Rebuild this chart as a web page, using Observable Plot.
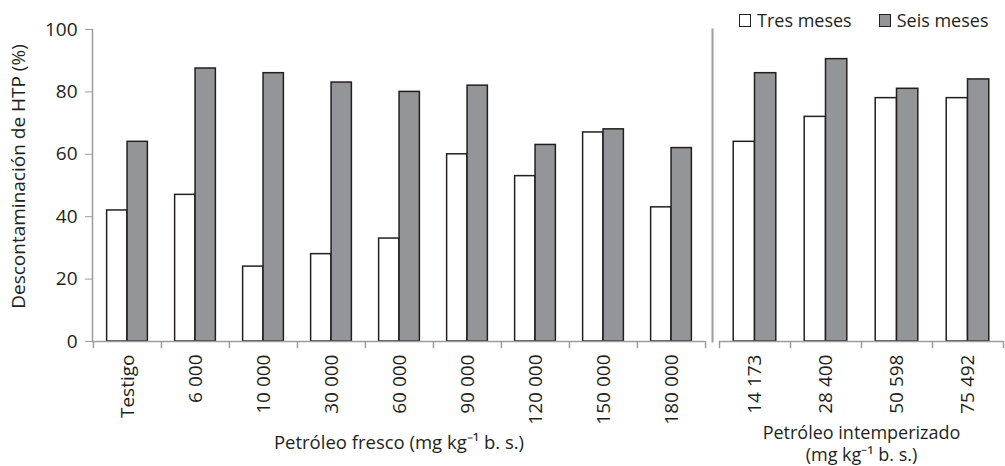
<!DOCTYPE html>
<html>
<head>
<meta charset="utf-8">
<script src="https://cdn.jsdelivr.net/npm/d3@7"></script>
<script src="https://cdn.jsdelivr.net/npm/@observablehq/plot@0.6"></script>
<style>
  html, body { margin: 0; padding: 0; background: #fff; }
  #chart { position: relative; width: 1005px; height: 466px; font-family: "Open Sans", sans-serif; color: #231f20; }
  #chart svg { overflow: visible; }
  .panel { position: absolute; top: 0; }
  .legend { position: absolute; top: 8px; left: 739px; display: flex; align-items: center; font-size: 18px; white-space: nowrap; }
  .legend .sw { display: inline-block; width: 10px; height: 11px; border: 1.5px solid #231f20; margin-right: 6px; }
  .legend .item { display: flex; align-items: center; margin-right: 27px; }
</style>
</head>
<body>
<div id="chart"></div>
<script>
// ---- data ----
const freshCategories = ["Testigo", "6 000", "10 000", "30 000", "60 000", "90 000", "120 000", "150 000", "180 000"];
const freshTres = [42, 47, 24, 28, 33, 60, 53, 67, 43];
const freshSeis = [64, 87.5, 86, 83, 80, 82, 63, 68, 62];

const weatheredCategories = ["14 173", "28 400", "50 598", "75 492"];
const weatheredTres = [64, 72, 78, 78];
const weatheredSeis = [86, 90.5, 81, 84];

const seriesNames = ["Tres meses", "Seis meses"];
const seriesFills = ["#ffffff", "#939598"];
const yTicks = [0, 20, 40, 60, 80, 100];
const yLabel = "Descontaminación de HTP (%)";
const freshTitle = "Petróleo fresco (mg kg\u207B\u00B9 b. s.)";
const weatheredTitle = "Petróleo intemperizado\n(mg kg\u207B\u00B9 b. s.)";

// ---- style ----
const ink = "#231f20";
const axisGray = "#9a9c9f";
const H = 466, MT = 29, MB = 125;

function panel({cats, tres, seis, width, marginLeft, marginRight, yAxis, title, titleDy, titleAnchor, titleSize, separator}) {
  const rows = cats.map((c, i) => ({cat: c, tres: tres[i], seis: seis[i]}));
  const bw = (width - marginLeft - marginRight) / cats.length;
  const outer = 0.2 * bw, mid = 0.5 * bw;
  const marks = [
    Plot.barY(rows, {x: "cat", y: "tres", fill: seriesFills[0], stroke: ink, strokeWidth: 1.5,
      insetLeft: outer, insetRight: mid}),
    Plot.barY(rows, {x: "cat", y: "seis", fill: seriesFills[1], stroke: ink, strokeWidth: 1.5,
      insetLeft: mid, insetRight: outer}),
    Plot.ruleY([0], {stroke: axisGray, strokeWidth: 1.5}),
    Plot.ruleX(cats, {x: d => d, y1: 0, y2: -2.3, dx: -bw / 2, stroke: axisGray, strokeWidth: 1.5}),
    Plot.ruleX(cats.slice(-1), {x: d => d, y1: 0, y2: -2.3, dx: bw / 2, stroke: axisGray, strokeWidth: 1.5}),
    Plot.axisX({tickSize: 0, tickRotate: -90, tickPadding: 13, fontSize: 19, fill: ink, label: null}),
    Plot.text([title], {frameAnchor: "bottom", dy: titleDy, fontSize: titleSize, fill: ink, lineHeight: 1.2, lineAnchor: titleAnchor})
  ];
  if (yAxis) {
    marks.push(
      Plot.frame({anchor: "left", stroke: axisGray, strokeWidth: 1.5}),
      Plot.axisY({ticks: yTicks, tickSize: 7, tickPadding: 8, fontSize: 19, stroke: axisGray, fill: ink, label: null}),
      Plot.text([yLabel], {frameAnchor: "left", textAnchor: "middle", rotate: -90, dx: -74, dy: -9, fontSize: 19, fill: ink})
    );
  } else {
    marks.push(Plot.axisY({ticks: [], label: null, tickSize: 0}));
  }
  if (separator) marks.push(Plot.frame({anchor: "right", dx: 7, stroke: axisGray, strokeWidth: 2}));
  return Plot.plot({
    width, height: H,
    marginLeft, marginRight, marginTop: MT, marginBottom: MB,
    style: {fontFamily: "'Open Sans', sans-serif", fontSize: "19px", color: ink, background: "transparent"},
    x: {type: "band", domain: cats, paddingInner: 0, paddingOuter: 0, label: null},
    y: {domain: [0, 100], label: null},
    marks
  });
}

const chart = document.getElementById("chart");

const left = panel({cats: freshCategories, tres: freshTres, seis: freshSeis,
  width: 712, marginLeft: 92, marginRight: 7, yAxis: true, title: freshTitle, titleDy: 100,
  titleAnchor: "middle", titleSize: 18.5, separator: true});
left.classList.add("panel"); left.style.left = "0px";
chart.appendChild(left);

const right = panel({cats: weatheredCategories, tres: weatheredTres, seis: weatheredSeis,
  width: 300, marginLeft: 14, marginRight: 2, yAxis: false, title: weatheredTitle, titleDy: 119,
  titleAnchor: "bottom", titleSize: 18, separator: false});
right.classList.add("panel"); right.style.left = "705px";
chart.appendChild(right);

// legend
const legend = document.createElement("div");
legend.className = "legend";
seriesNames.forEach((name, i) => {
  const item = document.createElement("span");
  item.className = "item";
  const sw = document.createElement("span");
  sw.className = "sw";
  sw.style.background = seriesFills[i];
  item.appendChild(sw);
  item.appendChild(document.createTextNode(name));
  legend.appendChild(item);
});
chart.appendChild(legend);
</script>
</body>
</html>
